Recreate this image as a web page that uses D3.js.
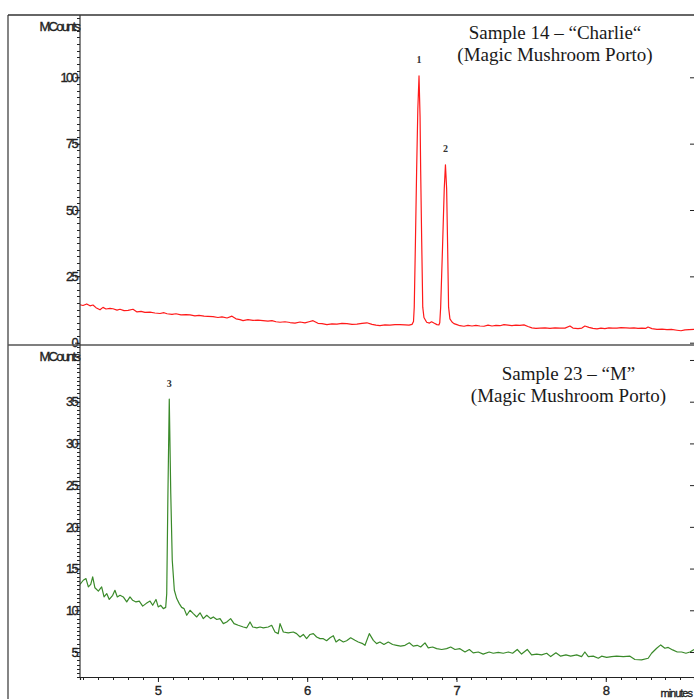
<!DOCTYPE html>
<html>
<head>
<meta charset="utf-8">
<script src="https://cdn.jsdelivr.net/npm/d3@7"></script>
<style>
  body { margin: 0; background: #fff; }
  svg { display: block; }
</style>
</head>
<body>
<div id="chart"></div>
<script>
/* chromatograms: [retention time (min), MCounts] */
const sample14 = [
  [4.478,14.3],[4.498,14.0],[4.523,14.6],[4.545,13.9],[4.565,14.2],[4.585,13.2],[4.612,12.4],[4.632,13.3],
  [4.652,12.7],[4.679,12.9],[4.699,12.8],[4.726,12.3],[4.746,12.6],[4.773,12.1],[4.800,12.2],[4.833,12.6],
  [4.860,11.6],[4.887,11.8],[4.913,11.4],[4.947,11.5],[4.980,11.2],[5.014,11.0],[5.041,11.3],[5.061,10.9],
  [5.094,10.7],[5.121,10.9],[5.155,10.5],[5.188,10.6],[5.215,10.5],[5.248,10.1],[5.275,10.3],[5.309,10.0],
  [5.335,9.9],[5.369,9.8],[5.402,9.5],[5.429,9.7],[5.463,9.3],[5.496,10.0],[5.523,9.0],[5.550,8.7],
  [5.570,8.3],[5.603,8.7],[5.637,8.4],[5.670,8.5],[5.704,8.3],[5.737,8.1],[5.764,8.3],[5.791,7.9],
  [5.818,7.7],[5.851,7.9],[5.885,7.6],[5.918,7.4],[5.952,7.8],[5.985,7.5],[6.012,7.9],[6.039,8.3],
  [6.072,7.3],[6.099,7.2],[6.132,6.8],[6.166,7.1],[6.199,7.0],[6.233,7.3],[6.266,7.2],[6.300,6.9],
  [6.333,7.0],[6.367,7.3],[6.400,7.5],[6.434,6.9],[6.461,6.6],[6.487,6.4],[6.521,6.7],[6.554,6.6],
  [6.588,6.8],[6.621,6.8],[6.655,6.7],[6.682,6.6],[6.702,6.9],
  [6.712,8.0],[6.717,13.4],[6.725,38],[6.733,65],[6.741,88],[6.749,100.5],[6.756,85],[6.760,65],
  [6.767,38],[6.774,13.4],[6.782,9.5],[6.800,7.7],[6.819,7.4],[6.833,7.9],[6.852,7.3],[6.869,6.8],[6.882,6.7],
  [6.888,7.5],[6.894,13.4],[6.906,35],[6.918,58],[6.926,67],[6.934,58],[6.941,35],[6.947,13.4],
  [6.956,9.0],[6.970,7.8],[6.983,7.2],[7.003,6.8],[7.023,6.4],[7.050,6.2],[7.077,6.5],[7.104,6.3],
  [7.130,6.5],[7.157,6.3],[7.184,6.2],[7.211,6.6],[7.238,6.3],[7.264,6.5],[7.291,6.4],[7.318,6.8],
  [7.345,6.6],[7.371,6.4],[7.398,6.6],[7.425,6.5],[7.452,6.7],[7.479,6.1],[7.505,5.6],[7.532,5.4],
  [7.559,5.5],[7.593,5.6],[7.626,5.4],[7.660,5.6],[7.693,5.5],[7.727,5.5],[7.760,6.3],[7.780,5.5],
  [7.814,5.3],[7.840,5.5],[7.860,6.3],[7.887,5.8],[7.914,5.4],[7.941,5.2],[7.968,5.5],[7.994,5.3],
  [8.021,5.6],[8.048,5.5],[8.075,5.5],[8.102,5.7],[8.135,5.6],[8.162,5.5],[8.189,5.6],[8.216,5.4],
  [8.242,5.5],[8.269,5.4],[8.283,5.9],[8.309,5.3],[8.343,5.0],[8.377,5.1],[8.410,4.9],[8.440,5.0],
  [8.477,4.7],[8.504,4.5],[8.531,4.8],[8.558,4.9],[8.591,5.0]
];

const sample23 = [
  [4.478,13.1],[4.500,13.6],[4.518,13.8],[4.534,12.8],[4.550,13.1],[4.563,14.0],[4.578,12.7],[4.601,12.3],
  [4.623,12.8],[4.639,11.6],[4.657,12.0],[4.674,11.3],[4.697,11.8],[4.712,12.4],[4.728,11.6],[4.746,11.8],
  [4.768,11.6],[4.791,11.0],[4.813,11.6],[4.831,11.2],[4.853,11.0],[4.875,11.1],[4.898,10.5],[4.920,10.8],
  [4.947,11.1],[4.965,10.6],[4.987,11.3],[5.002,10.4],[5.019,10.6],[5.036,10.2],[5.052,10.35],
  [5.059,12.0],[5.067,24.0],[5.076,35.3],[5.086,24.0],[5.096,16.0],[5.110,12.4],[5.126,11.4],[5.143,10.8],
  [5.159,10.35],[5.175,10.2],[5.193,9.4],[5.215,10.0],[5.237,9.6],[5.260,9.2],[5.282,9.7],[5.304,9.0],
  [5.327,9.4],[5.353,9.0],[5.371,9.2],[5.394,8.9],[5.416,9.0],[5.438,8.4],[5.461,8.6],[5.487,9.0],
  [5.510,8.4],[5.538,8.2],[5.572,8.0],[5.595,7.9],[5.617,8.6],[5.635,8.0],[5.662,7.9],[5.684,8.0],
  [5.706,7.9],[5.739,8.0],[5.762,8.2],[5.784,7.4],[5.806,7.2],[5.818,8.4],[5.840,7.4],[5.873,7.3],
  [5.907,7.4],[5.929,7.2],[5.952,6.8],[5.974,7.1],[5.996,6.6],[6.019,7.1],[6.041,7.2],[6.063,6.8],
  [6.086,6.6],[6.108,6.6],[6.130,6.35],[6.153,6.7],[6.175,6.95],[6.193,6.2],[6.215,6.5],[6.242,6.2],
  [6.264,6.35],[6.291,6.7],[6.320,6.4],[6.342,6.2],[6.372,6.0],[6.387,5.8],[6.416,7.2],[6.443,6.4],
  [6.465,6.0],[6.487,6.2],[6.514,5.9],[6.543,6.2],[6.572,5.9],[6.599,5.8],[6.626,5.7],[6.655,5.8],
  [6.684,6.1],[6.710,5.7],[6.737,5.8],[6.760,5.6],[6.789,6.1],[6.811,5.5],[6.840,5.6],[6.867,5.4],
  [6.901,5.3],[6.934,5.4],[6.961,5.6],[6.990,5.3],[7.023,5.4],[7.057,5.0],[7.086,5.3],[7.112,4.9],
  [7.146,5.0],[7.179,4.75],[7.219,5.0],[7.246,4.85],[7.280,4.95],[7.313,4.85],[7.347,5.0],[7.376,4.85],
  [7.407,5.3],[7.436,4.75],[7.474,5.3],[7.503,4.65],[7.537,4.75],[7.570,4.65],[7.604,4.85],[7.631,4.45],
  [7.666,4.9],[7.698,4.5],[7.733,4.65],[7.765,4.5],[7.805,4.65],[7.838,4.45],[7.860,5.0],[7.883,4.45],
  [7.916,4.5],[7.950,4.25],[7.972,4.5],[8.006,4.35],[8.039,4.45],[8.073,4.5],[8.117,4.45],[8.162,4.5],
  [8.195,4.1],[8.240,4.05],[8.284,4.25],[8.307,4.85],[8.341,5.45],[8.368,5.85],[8.396,5.45],[8.418,5.55],
  [8.448,5.25],[8.479,5.0],[8.508,5.0],[8.537,4.85],[8.564,5.0],[8.591,5.3]
];

/* axis ticks and labels */
const xTicks = [5, 6, 7, 8];
const xTickLabels = ["5", "6", "7", "8"];
const topTicks = [0, 25, 50, 75, 100];
const topTickLabels = ["0", "25", "50", "75", "100"];
const bottomTicks = [5, 10, 15, 20, 25, 30, 35, 40];
const bottomTickLabels = ["5", "10", "15", "20", "25", "30", "35", ""];

/* peak labels: [label, retention time] */
const peaks14 = [["1", 6.749], ["2", 6.926]];
const peaks23 = [["3", 5.076]];

const titles14 = ["Sample 14 \u2013 \u201CCharlie\u201C", "(Magic Mushroom Porto)"];
const titles23 = ["Sample 23 \u2013 \u201CM\u201D", "(Magic Mushroom Porto)"];

let width = 694;
let height = 699;
let axisColor = "#222";
let sansFont = "'Liberation Sans', Arial, sans-serif";
let serifFont = "'Liberation Serif', 'Times New Roman', serif";

let svg = d3.select("#chart")
  .append("svg")
  .attr("width", width)
  .attr("height", height);

svg.append("rect").attr("width", width).attr("height", height).attr("fill", "#fff");

/* Scales */
let x = d3.scaleLinear().domain([4.478, 8.591]).range([80, 694]);
let yTop = d3.scaleLinear().domain([0, 100]).range([342.7, 77.3]);
let yBottom = d3.scaleLinear().domain([5, 35]).range([652, 401.7]);

function styleAxisText(sel, spacing) {
  return sel.attr("fill", axisColor)
    .attr("stroke", axisColor)
    .attr("stroke-width", 0.35)
    .style("font-family", sansFont)
    .style("font-size", "13px")
    .style("letter-spacing", spacing);
}

function drawPanel(opts) {
  let y = opts.y;
  let g = svg.append("g");

  g.append("clipPath")
    .attr("id", opts.id)
    .append("rect")
    .attr("x", 80)
    .attr("y", opts.top)
    .attr("width", 614)
    .attr("height", opts.bottom - opts.top);

  let line = d3.line()
    .x(d => x(d[0]))
    .y(d => y(d[1]));

  g.append("path")
    .datum(opts.data)
    .attr("clip-path", `url(#${opts.id})`)
    .attr("fill", "none")
    .attr("stroke", opts.color)
    .attr("stroke-width", 1.2)
    .attr("stroke-linejoin", "round")
    .attr("d", line);

  /* left minor ticks */
  g.append("g")
    .attr("transform", "translate(80,0)")
    .call(d3.axisLeft(y).tickValues(opts.minor).tickSize(3).tickFormat(""))
    .call(s => s.select(".domain").remove())
    .selectAll("line").attr("stroke", axisColor).attr("shape-rendering", "crispEdges");

  /* left major ticks */
  let major = g.append("g")
    .attr("transform", "translate(80,0)")
    .call(d3.axisLeft(y).tickValues(opts.ticks).tickSize(5).tickPadding(-2)
      .tickFormat((d, i) => opts.labels[i]))
    .call(s => s.select(".domain").remove());
  major.selectAll("line").attr("stroke", axisColor);
  styleAxisText(major.selectAll("text"), "-1.7px");

  /* right edge ticks */
  g.append("g")
    .attr("transform", "translate(690,0)")
    .call(d3.axisRight(y).tickValues(opts.ticks).tickSize(4).tickFormat(""))
    .call(s => s.select(".domain").remove())
    .selectAll("line").attr("stroke", axisColor);

  styleAxisText(
    g.append("text")
      .attr("x", 79)
      .attr("y", opts.unitY)
      .attr("text-anchor", "end")
      .text("MCounts"),
    "-1.8px");

  /* peak numbers */
  opts.peaks.forEach(p => {
    let top = d3.least(opts.data, d => Math.abs(d[0] - p[1]));
    g.append("text")
      .attr("x", x(top[0]))
      .attr("y", y(top[1]) - 12.5)
      .attr("text-anchor", "middle")
      .attr("fill", "#333")
      .style("font-family", serifFont)
      .style("font-weight", "bold")
      .style("font-size", "10px")
      .text(p[0]);
  });

  /* sample title */
  opts.titles.forEach((t, i) => {
    g.append("text")
      .attr("x", opts.titleX)
      .attr("y", opts.titleY + i * 22.5)
      .attr("text-anchor", "middle")
      .attr("fill", "#1a1a1a")
      .style("font-family", serifFont)
      .style("font-size", "19px")
      .text(t);
  });
}

drawPanel({
  id: "clipTop", data: sample14, y: yTop, top: 15, bottom: 345, color: "#ff1a1a",
  ticks: topTicks, labels: topTickLabels, minor: d3.range(0, 123, 2.5),
  unitY: 31, peaks: peaks14, titles: titles14, titleX: 555, titleY: 38.5
});

drawPanel({
  id: "clipBottom", data: sample23, y: yBottom, top: 345, bottom: 677, color: "#3a8a2a",
  ticks: bottomTicks, labels: bottomTickLabels, minor: d3.range(2, 41.6, 0.5),
  unitY: 361, peaks: peaks23, titles: titles23, titleX: 568.5, titleY: 379.5
});

/* x axis */
svg.append("g")
  .attr("transform", "translate(0,677)")
  .call(d3.axisBottom(x).tickValues(d3.range(45, 86).map(d => d / 10)).tickSize(3).tickFormat(""))
  .call(s => s.select(".domain").remove())
  .selectAll("line").attr("stroke", axisColor).attr("shape-rendering", "crispEdges");

let xAxis = svg.append("g")
  .attr("transform", "translate(0,677)")
  .call(d3.axisBottom(x).tickValues(xTicks).tickSize(5).tickSizeOuter(3).tickPadding(4)
    .tickFormat((d, i) => xTickLabels[i]));
xAxis.select(".domain").attr("stroke", axisColor).attr("stroke-width", 1.2);
xAxis.selectAll("line").attr("stroke", axisColor);
styleAxisText(xAxis.selectAll("text"), "0px");

styleAxisText(
  svg.append("text")
    .attr("x", 692)
    .attr("y", 697)
    .attr("text-anchor", "end")
    .text("minutes"),
  "-1px").style("font-size", "11px");

/* frame lines */
let frame = svg.append("g")
  .attr("stroke", "#333")
  .attr("fill", "none");
frame.append("line").attr("x1", 8).attr("x2", width).attr("y1", 15).attr("y2", 15).attr("stroke-width", 1.5);
frame.append("line").attr("x1", 8).attr("x2", 8).attr("y1", 15).attr("y2", height).attr("stroke-width", 1.2);
frame.append("line").attr("x1", 8).attr("x2", width).attr("y1", 345).attr("y2", 345).attr("stroke-width", 1.5).attr("stroke", "#555");
frame.append("line").attr("x1", 80).attr("x2", 80).attr("y1", 15).attr("y2", 677).attr("stroke-width", 1.2);
</script>
</body>
</html>
